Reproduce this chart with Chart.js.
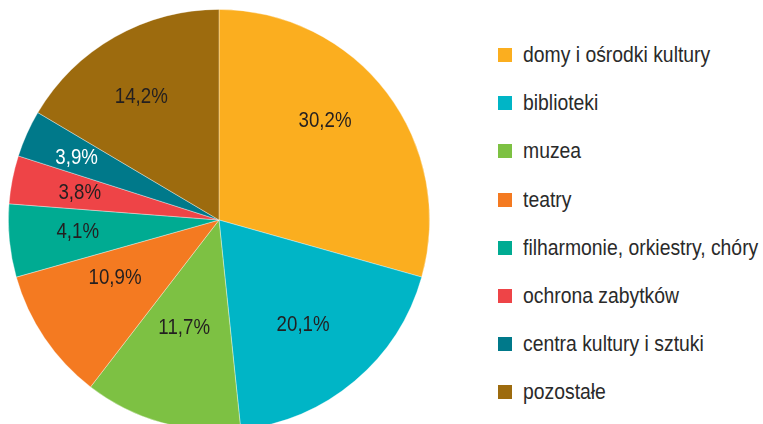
<!DOCTYPE html>
<html lang="pl">
<head>
<meta charset="utf-8">
<title>Struktura</title>
<script src="https://cdn.jsdelivr.net/npm/chart.js@4/dist/chart.umd.min.js"></script>
<style>
    html, body {
        margin: 0;
        padding: 0;
        background: #fff;
    }
    body {
        width: 763px;
        height: 424px;
        position: relative;
        overflow: hidden;
        font-family: 'Liberation Sans', Arial, sans-serif;
    }
    .pie-box {
        position: absolute;
        left: 8px;
        top: 9px;
        width: 422px;
        height: 422px;
    }
    .legend {
        position: absolute;
        left: 498px;
        top: 31px;
        margin: 0;
        padding: 0;
        list-style: none;
    }
    .legend li {
        height: 48.2px;
        display: flex;
        align-items: center;
        font-size: 22px;
        color: #2a2a2a;
        white-space: nowrap;
    }
    .legend span.box {
        width: 14px;
        height: 14px;
        margin-right: 11px;
        flex: none;
    }
    /* narrow the face to look like the condensed original */
    .legend span.txt {
        display: inline-block;
        transform: scaleX(0.88);
        transform-origin: left center;
    }
</style>
</head>
<body>
<div class="pie-box"><canvas id="pieChart"></canvas></div>
<ul class="legend" id="legend"></ul>

<script>
// Categories (clockwise from the top)
const categories = [
    'domy i ośrodki kultury',
    'biblioteki',
    'muzea',
    'teatry',
    'filharmonie, orkiestry, chóry',
    'ochrona zabytków',
    'centra kultury i sztuki',
    'pozostałe'
];

// Slice shares as drawn in the picture (measured from the slice angles)
const shares = [29.4, 19.0, 12.1, 10.2, 5.6, 3.7, 3.6, 16.5];

// Percent labels printed on the slices
const percentLabels = ['30,2%', '20,1%', '11,7%', '10,9%', '4,1%', '3,8%', '3,9%', '14,2%'];

const colors = [
    '#fbae1f',
    '#00b5c6',
    '#7dc143',
    '#f47a21',
    '#00ab92',
    '#ee4447',
    '#00798a',
    '#9d6b0e'
];

// where each label sits: angle shift from slice middle (deg), distance as part of radius
const labelPlace = [
    [-6, 0.69], [1.5, 0.64], [2, 0.54], [5, 0.565],
    [1, 0.673], [0, 0.674], [-0.5, 0.738], [-2.5, 0.693]
];
const labelColors = ['#231f20', '#231f20', '#231f20', '#231f20', '#231f20', '#231f20', '#ffffff', '#231f20'];

// Draw percent labels inside slices
const sliceLabels = {
    id: 'sliceLabels',
    afterDatasetsDraw(chart) {
        const ctx = chart.ctx;
        const arcs = chart.getDatasetMeta(0).data;
        arcs.forEach((arc, i) => {
            const mid = (arc.startAngle + arc.endAngle) / 2 + labelPlace[i][0] * Math.PI / 180;
            const r = arc.outerRadius * labelPlace[i][1];
            ctx.save();
            ctx.translate(arc.x + Math.cos(mid) * r, arc.y + Math.sin(mid) * r);
            ctx.scale(0.85, 1);
            ctx.font = "22px 'Liberation Sans', Arial, sans-serif";
            ctx.textAlign = 'center';
            ctx.textBaseline = 'middle';
            ctx.fillStyle = labelColors[i];
            ctx.fillText(percentLabels[i], 0, 0);
            ctx.restore();
        });
    }
};

function buildLegend() {
    const list = document.getElementById('legend');
    categories.forEach((name, i) => {
        const li = document.createElement('li');
        const box = document.createElement('span');
        box.className = 'box';
        box.style.background = colors[i];
        const txt = document.createElement('span');
        txt.className = 'txt';
        txt.textContent = name;
        li.appendChild(box);
        li.appendChild(txt);
        list.appendChild(li);
    });
}

function initChart() {
    const ctx = document.getElementById('pieChart').getContext('2d');
    new Chart(ctx, {
        type: 'pie',
        data: {
            labels: categories,
            datasets: [{
                data: shares,
                backgroundColor: colors,
                borderColor: 'rgba(255,255,255,0.45)',
                borderWidth: 0.8
            }]
        },
        options: {
            responsive: true,
            maintainAspectRatio: false,
            animation: false,
            layout: { padding: 0 },
            plugins: {
                legend: { display: false },
                tooltip: { enabled: false }
            }
        },
        plugins: [sliceLabels]
    });
}

document.addEventListener('DOMContentLoaded', () => {
    buildLegend();
    initChart();
});
</script>
</body>
</html>
